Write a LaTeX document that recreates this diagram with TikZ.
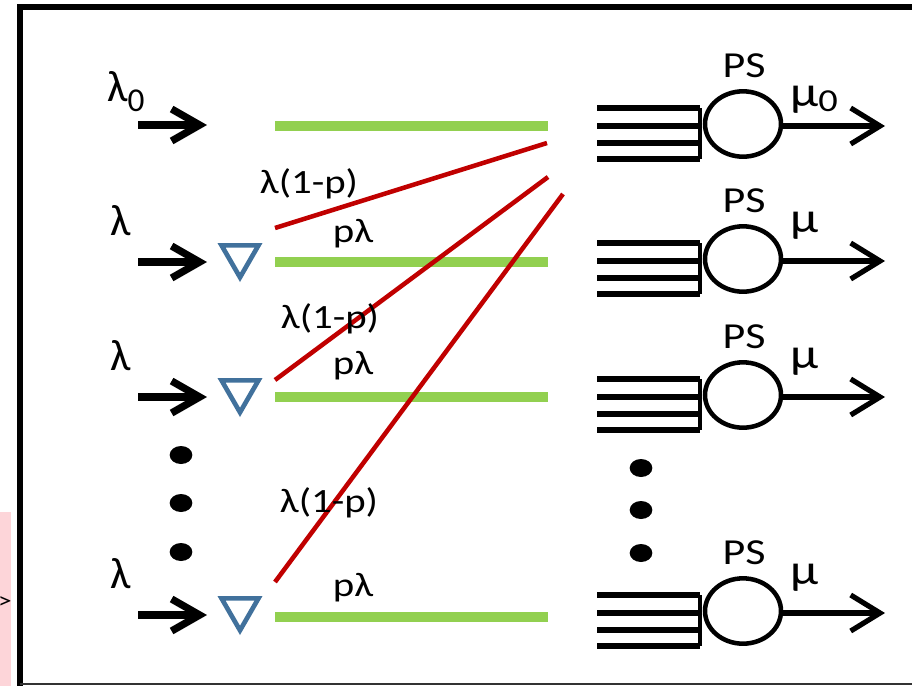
\documentclass[tikz,border=0pt]{standalone}
\usepackage{fontspec}
\setmainfont{Carlito}[FakeStretch=1.2]
\newfontfamily\lamfont{Carlito}[FakeStretch=1.0]
\usetikzlibrary{arrows.meta,shapes.geometric}
\definecolor{grn}{HTML}{92D050}
\definecolor{rd}{HTML}{C00000}
\definecolor{tri}{HTML}{41719C}
\definecolor{pinkbg}{HTML}{FDD5D9}

\begin{document}
\begin{tikzpicture}[x=0.75pt,y=-0.75pt,
  inarrow/.style={line width=5.5pt,-{Straight Barb[length=21pt,width=24pt,line join=miter,line cap=butt]}},
  outarrow/.style={line width=3.9pt,-{Straight Barb[length=22pt,width=27pt,line join=miter,line cap=butt]}},
  greenbar/.style={grn,line width=7.5pt},
  redline/.style={rd,line width=3.4pt},
  lbl/.style={inner sep=0pt,font=\fontsize{25.5}{30}\selectfont},
  pslbl/.style={inner sep=0pt,font=\fontsize{27.5}{32}\selectfont},
  mulbl/.style={inner sep=0pt,font=\fontsize{32}{36}\selectfont},
  lamlbl/.style={inner sep=0pt,font=\lamfont\fontsize{33}{36}\selectfont},
  splitter/.style={draw,regular polygon,regular polygon sides=3,shape border rotate=180,
    tri,line width=3.5pt,minimum size=32pt,inner sep=0pt},
  psnode/.style={draw,ellipse,line width=3.4pt,minimum width=57pt,minimum height=49pt,inner sep=0pt},
  feed/.style={line width=4pt},
  dotnode/.style={fill,ellipse,minimum width=17pt,minimum height=13.5pt,inner sep=0pt}]
\useasboundingbox (0,0) rectangle (912,686);

% clipped strip at the left edge
\fill[pinkbg] (0,512) rectangle (11,686);
\node[inner sep=0pt,font=\fontsize{17}{17}\selectfont] (edge) at (5,603) {>};

% frame
\draw[line width=4.5pt] (912,7) -- (20,7) -- (20,686);
\draw[line width=2pt,black!80] (20,684) -- (912,684);

% input streams
\coordinate (a0s) at (138,125); \coordinate (a0e) at (207,125);
\draw[inarrow] (a0s) -- (a0e);
\node[lamlbl,anchor=base west] (l0) at (107,101) {λ\raisebox{-8pt}{\fontsize{25}{28}\selectfont 0}};

\foreach \n/\y in {1/262,2/397,3/615}{
  \coordinate (a\n s) at (138,\y); \coordinate (a\n e) at (207,\y);
  \draw[inarrow] (a\n s) -- (a\n e);
  \node[splitter] (t\n) at (240,\y-6) {};
  \node[lamlbl] (l\n) at (121,\y-41) {λ};
}

% green queues
\foreach \n/\y in {0/126,1/262,2/397,3/617}{
  \coordinate (g\n a) at (275,\y); \coordinate (g\n b) at (548,\y);
  \draw[greenbar] (g\n a) -- (g\n b);
}

% red diverted streams
\coordinate (r1a) at (275,228); \coordinate (r1b) at (547,143);
\coordinate (r2a) at (275,380); \coordinate (r2b) at (548,177);
\coordinate (r3a) at (275,582); \coordinate (r3b) at (563,194);
\draw[redline] (r1a) -- (r1b);
\draw[redline] (r2a) -- (r2b);
\draw[redline] (r3a) -- (r3b);

% rate labels
\node[lbl] (q1) at (309,184) {λ(1-p)};
\node[lbl] (p1) at (353,234) {pλ};
\node[lbl] (q2) at (330,319) {λ(1-p)};
\node[lbl] (p2) at (353,366) {pλ};
\node[lbl] (q3) at (329,503) {λ(1-p)};
\node[lbl] (p3) at (353,588) {pλ};

% dots
\node[dotnode] (dl1) at (181,455) {};
\node[dotnode] (dl2) at (181,503) {};
\node[dotnode] (dl3) at (181,552) {};
\node[dotnode] (dr1) at (641,468) {};
\node[dotnode] (dr2) at (641,510) {};
\node[dotnode] (dr3) at (641,553) {};

% processor-sharing servers
\foreach \n/\y in {0/126,1/261,2/397,3/613}{
  \foreach \k/\d in {1/-18,2/0,3/17,4/33}{
    \coordinate (f\n\k) at (597,\y+\d); \coordinate (h\n\k) at (700,\y+\d);
    \draw[feed] (f\n\k) -- (h\n\k);
  }
  \draw[line width=2.4pt] (h\n1) -- (h\n4);
  \node[psnode] (s\n) at (743,\y-2) {};
  \coordinate (o\n) at (885,\y);
  \draw[outarrow] (s\n.east |- o\n) -- (o\n);
  \node[pslbl] (ps\n) at (744,\y-60) {PS};
}
\node[mulbl,anchor=base west] (mu0) at (790,106) {μ\raisebox{-4pt}{\fontsize{24}{26}\selectfont 0}};
\node[mulbl,anchor=base west] (mu1) at (790,232) {μ};
\node[mulbl,anchor=base west] (mu2) at (790,368) {μ};
\node[mulbl,anchor=base west] (mu3) at (790,584) {μ};
\end{tikzpicture}
\end{document}
